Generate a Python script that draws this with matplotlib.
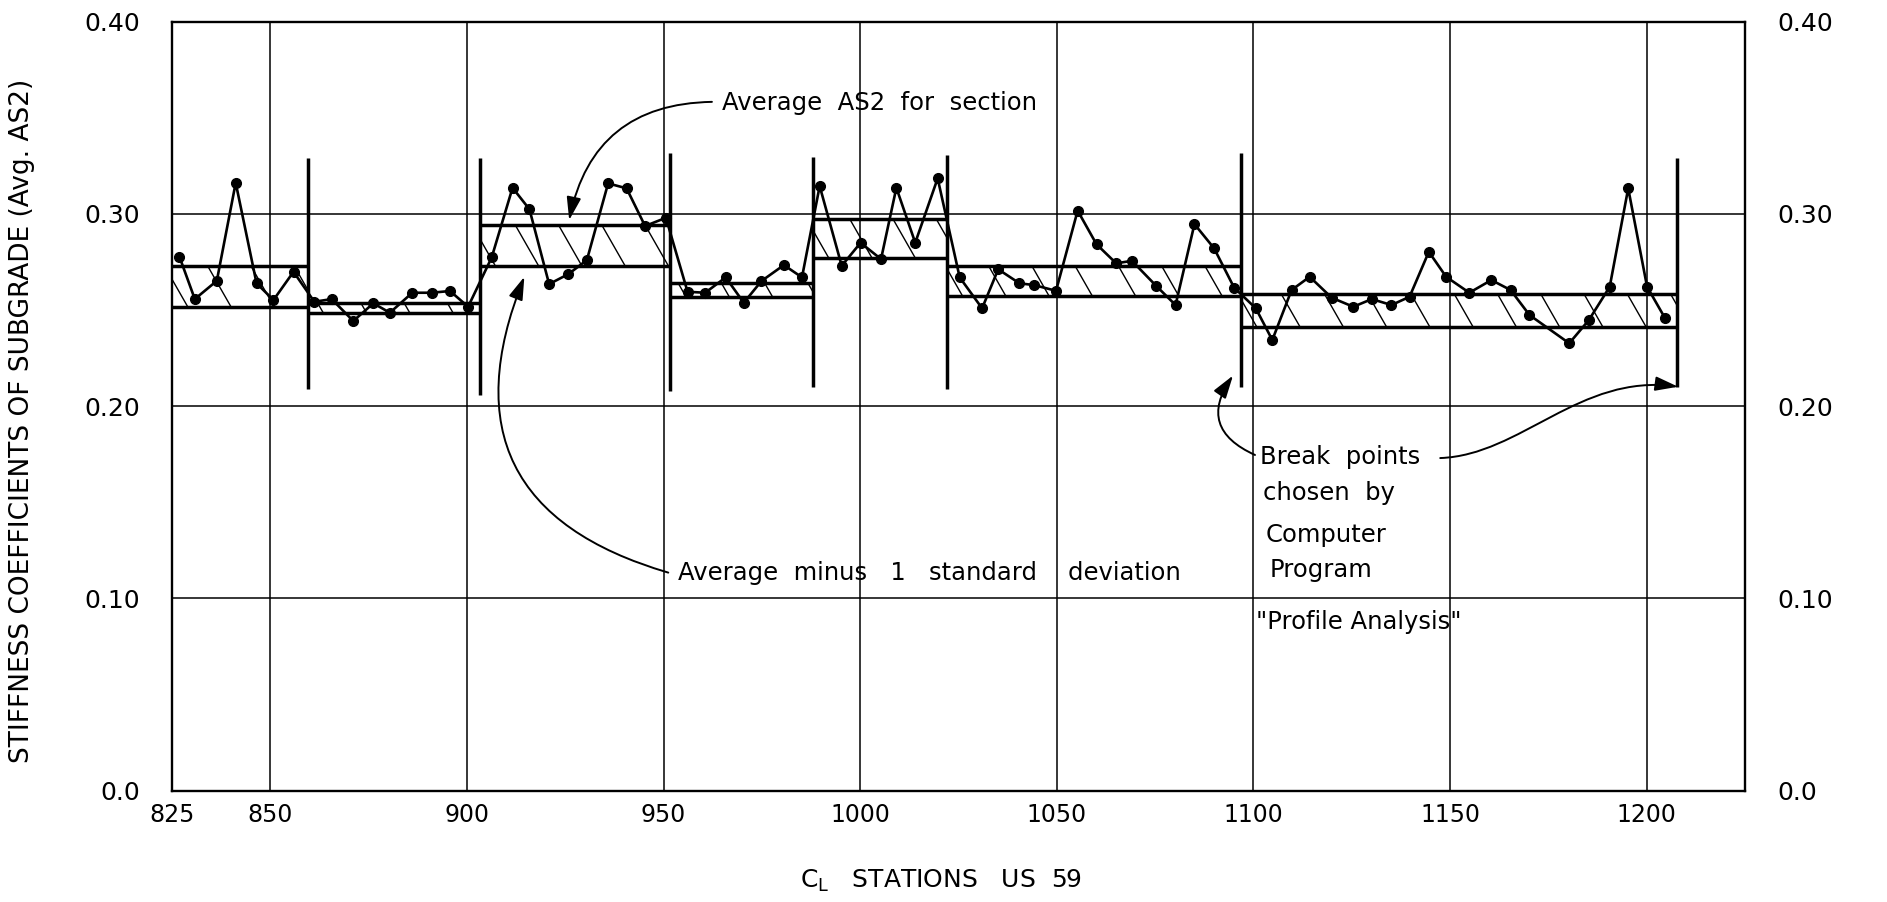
import matplotlib
matplotlib.use("Agg")
import matplotlib.pyplot as plt
import numpy as np
from matplotlib.patches import Rectangle, FancyArrowPatch
from matplotlib.path import Path

# ---------------- data ----------------
stations = [826.9, 830.8, 836.4, 841.2, 846.5, 850.8, 855.9,
            861.2, 865.6, 871.1, 876.2, 880.4, 886.1, 891.0, 895.7, 900.3,
            906.3, 911.6, 915.9, 920.9, 925.8, 930.5, 935.9, 940.6, 945.3, 950.6,
            956.1, 960.6, 965.8, 970.4, 974.9, 980.6, 985.2,
            989.7, 995.3, 1000.1, 1005.3, 1009.2, 1014.0, 1019.7,
            1025.3, 1031.0, 1035.1, 1040.5, 1044.2, 1049.8, 1055.3, 1060.1, 1065.1,
            1069.1, 1075.3, 1080.2, 1085.0, 1090.0, 1095.1,
            1100.6, 1104.8, 1109.7, 1114.3, 1119.9, 1125.4, 1130.1, 1135.1, 1139.7,
            1144.6, 1149.0, 1154.9, 1160.5, 1165.4, 1170.2, 1180.3, 1185.3, 1190.6,
            1195.3, 1200.1, 1204.6]
as2 = [0.2777, 0.2557, 0.2652, 0.3162, 0.2639, 0.2552, 0.2699,
       0.2543, 0.2557, 0.2443, 0.2535, 0.2486, 0.2590, 0.2590, 0.2599, 0.2517,
       0.2774, 0.3136, 0.3024, 0.2635, 0.2687, 0.2760, 0.3159, 0.3133, 0.2937, 0.2980,
       0.2595, 0.2590, 0.2670, 0.2538, 0.2651, 0.2734, 0.2670,
       0.3145, 0.2730, 0.2850, 0.2765, 0.3136, 0.2850, 0.3185,
       0.2670, 0.2509, 0.2712, 0.2639, 0.2630, 0.2600, 0.3017, 0.2842, 0.2743,
       0.2756, 0.2625, 0.2526, 0.2947, 0.2821, 0.2616,
       0.2509, 0.2344, 0.2604, 0.2673, 0.2564, 0.2517, 0.2557, 0.2526, 0.2569,
       0.2803, 0.2673, 0.2590, 0.2656, 0.2604, 0.2474, 0.2327, 0.2448, 0.2621,
       0.3133, 0.2621, 0.2460]

breaks = [825.0, 859.5, 903.3, 951.7, 988.0, 1022.0, 1096.8, 1207.6]
section_avg = [0.2730, 0.2538, 0.2940, 0.2639, 0.2971, 0.2729, 0.2583]
section_avg_minus_sd = [0.2517, 0.2484, 0.2727, 0.2569, 0.2771, 0.2574, 0.2414]
break_top = [0.329, 0.329, 0.3315, 0.3294, 0.3306, 0.3315, 0.329]
break_bottom = [0.209, 0.206, 0.208, 0.210, 0.209, 0.210, 0.210]

xticks = [825, 850, 900, 950, 1000, 1050, 1100, 1150, 1200]
xtick_labels = ["825", "850", "900", "950", "1000", "1050", "1100", "1150", "1200"]
yticks = [0.0, 0.1, 0.2, 0.3, 0.4]
ytick_labels = ["0.0", "0.10", "0.20", "0.30", "0.40"]

ylabel = "STIFFNESS COEFFICIENTS OF SUBGRADE (Avg. AS2)"
xlabel = r"C$_{\mathrm{L}}$   STATIONS   US  59"
label_avg = "Average  AS2  for  section"
label_sd = "Average  minus   1   standard    deviation"
label_break = ["Break  points", "chosen  by", "Computer", "Program"]
label_profile = "\"Profile Analysis\""

# ---------------- figure ----------------
W, H = 1887, 902
fig = plt.figure(figsize=(W / 100, H / 100), dpi=100)
ax_l, ax_r, ax_t, ax_b = 172, 1745, 21.7, 790.6
ax = fig.add_axes([ax_l / W, 1 - ax_b / H, (ax_r - ax_l) / W, (ax_b - ax_t) / H])
xmin, xmax, ymin, ymax = 825, 1225, 0.0, 0.40
ax.set_xlim(xmin, xmax)
ax.set_ylim(ymin, ymax)

for s in ax.spines.values():
    s.set_linewidth(1.7)
    s.set_color("black")

# grid
for gx in xticks[1:]:
    ax.axvline(gx, color="black", lw=1.1, zorder=1)
for gy in yticks[1:-1]:
    ax.axhline(gy, color="black", lw=1.1, zorder=1)

ax.set_xticks(xticks)
ax.set_xticklabels(xtick_labels, fontsize=17)
ax.set_yticks(yticks)
ax.set_yticklabels(ytick_labels, fontsize=18)
ax.tick_params(axis="x", length=0, pad=9)
ax.tick_params(axis="y", length=0, pad=23, labelright=True)

# pixel scale factors for hatching
px_per_st = (ax_r - ax_l) / (xmax - xmin)
px_per_v = (ax_b - ax_t) / (ymax - ymin)
slope = 1.75
spacing = 11

for i in range(len(section_avg)):
    x0, x1 = breaks[i], breaks[i + 1]
    top, bot = section_avg[i], section_avg_minus_sd[i]
    rect = Rectangle((x0, bot), x1 - x0, top - bot, transform=ax.transData,
                     facecolor="none", edgecolor="none")
    ax.add_patch(rect)
    dx = (top - bot) * px_per_v / slope / px_per_st
    for xs in np.arange(x0 + 4 - dx, x1, spacing):
        ln, = ax.plot([xs, xs + dx], [top, bot], color="black", lw=1.0, zorder=2)
        ln.set_clip_path(rect)
    ax.plot([x0, x1], [top, top], color="black", lw=2.5, zorder=3, solid_capstyle="butt")
    ax.plot([x0, x1], [bot, bot], color="black", lw=2.5, zorder=3, solid_capstyle="butt")

for i, b in enumerate(breaks[1:]):
    ax.plot([b, b], [break_bottom[i], break_top[i]], color="black", lw=2.5, zorder=3,
            solid_capstyle="butt")

ax.plot(stations, as2, color="black", lw=1.9, marker="o", markersize=7, zorder=4)

# annotations
afs = 17.5
ax.text(964.9, 0.3575, label_avg, fontsize=afs, ha="left", va="center")
ax.annotate("", xy=(926, 0.2968), xytext=(962.3, 0.3583),
            arrowprops=dict(arrowstyle="-|>,head_length=0.7,head_width=0.22",
                            connectionstyle="arc3,rad=0.4", color="black", lw=1.4,
                            shrinkA=0, shrinkB=0, mutation_scale=20))

ax.text(953.7, 0.1132, label_sd, fontsize=afs, ha="left", va="center")
ax.annotate("", xy=(914.6, 0.2673), xytext=(951.2, 0.1134),
            arrowprops=dict(arrowstyle="-|>,head_length=0.7,head_width=0.22",
                            connectionstyle="arc3,rad=-0.55", color="black", lw=1.4,
                            shrinkA=0, shrinkB=0, mutation_scale=20))

break_y = [0.1737, 0.1547, 0.1330, 0.1147]
break_x = [1101.7, 1102.5, 1103.0, 1104.0]
for tx, ty, t in zip(break_x, break_y, label_break):
    ax.text(tx, ty, t, fontsize=afs, ha="left", va="center")
ax.text(1100.6, 0.0879, label_profile, fontsize=afs, ha="left", va="center")

ax.annotate("", xy=(1094.8, 0.2159), xytext=(1100.4, 0.1746),
            arrowprops=dict(arrowstyle="-|>,head_length=0.7,head_width=0.22",
                            connectionstyle="arc3,rad=-0.6", color="black", lw=1.4,
                            shrinkA=0, shrinkB=0, mutation_scale=20))

s_path = Path([(1147.5, 0.1730), (1168, 0.1745), (1183, 0.2170), (1208.0, 0.2101)],
              [Path.MOVETO, Path.CURVE4, Path.CURVE4, Path.CURVE4])
arr = FancyArrowPatch(path=s_path, arrowstyle="-|>,head_length=0.7,head_width=0.22",
                      mutation_scale=20, color="black", lw=1.4, transform=ax.transData)
ax.add_patch(arr)

# axis titles
fig.text(941 / W, 1 - 881 / H, xlabel, fontsize=18, ha="center", va="center")
fig.text(22 / W, 1 - 421 / H, ylabel, fontsize=19, ha="center", va="center", rotation=90)

fig.savefig("out.png", dpi=100, facecolor="white")
